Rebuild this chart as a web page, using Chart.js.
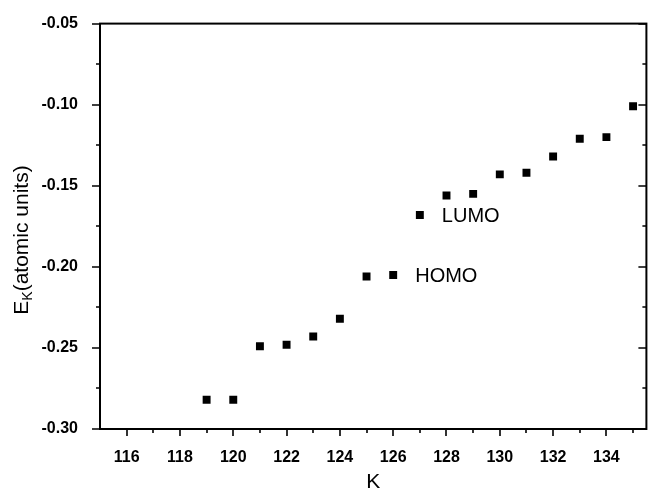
<!DOCTYPE html>
<html>
<head>
<meta charset="utf-8">
<script src="https://cdn.jsdelivr.net/npm/chart.js@4/dist/chart.umd.min.js"></script>
<style>
  body { margin: 0; background: #fff; }
  canvas { display: block; }
</style>
</head>
<body>
<canvas id="chart" width="652" height="489"></canvas>
<script>
// orbital index K and its energy (atomic units)
const kValues = [119, 120, 121, 122, 123, 124, 125, 126, 127, 128, 129, 130, 131, 132, 133, 134, 135];
const energies = [-0.282, -0.282, -0.249, -0.248, -0.243, -0.232, -0.206, -0.205, -0.168,
  -0.156, -0.155, -0.143, -0.142, -0.132, -0.121, -0.120, -0.101];

const xTickValues = [116, 118, 120, 122, 124, 126, 128, 130, 132, 134];
const xMinorValues = [115, 117, 119, 121, 123, 125, 127, 129, 131, 133, 135];
const yTickValues = [-0.30, -0.25, -0.20, -0.15, -0.10, -0.05];
const yMinorValues = [-0.275, -0.225, -0.175, -0.125, -0.075];

const labelNames = ['HOMO', 'LUMO'];
const labelK = [126, 127];

const FONT = '"Liberation Sans", Arial, sans-serif';

// frame, tick marks and the free text (titles, HOMO/LUMO)
const decorations = {
  id: 'decorations',
  afterDraw(chart) {
    const { ctx, chartArea: a } = chart;
    const xs = chart.scales.x, ys = chart.scales.y;
    ctx.save();
    ctx.strokeStyle = '#000';
    ctx.lineWidth = 2;
    ctx.strokeRect(a.left, a.top, a.right - a.left, a.bottom - a.top);

    ctx.lineWidth = 1.6;
    ctx.beginPath();
    xTickValues.forEach(v => {
      const px = Math.round(xs.getPixelForValue(v));
      ctx.moveTo(px, a.bottom); ctx.lineTo(px, a.bottom + 7);
    });
    xMinorValues.forEach(v => {
      const px = Math.round(xs.getPixelForValue(v));
      if (px <= a.left + 1 || px >= a.right - 1) return;
      ctx.moveTo(px, a.bottom); ctx.lineTo(px, a.bottom + 4);
    });
    yTickValues.forEach(v => {
      const py = Math.round(ys.getPixelForValue(v));
      ctx.moveTo(a.left, py); ctx.lineTo(a.left - 8, py);
      ctx.moveTo(a.right, py); ctx.lineTo(a.right - 8, py);
    });
    yMinorValues.forEach(v => {
      const py = Math.round(ys.getPixelForValue(v));
      ctx.moveTo(a.left, py); ctx.lineTo(a.left - 4, py);
      ctx.moveTo(a.right, py); ctx.lineTo(a.right - 4, py);
    });
    ctx.stroke();

    ctx.fillStyle = '#000';
    // HOMO / LUMO next to their points
    ctx.font = '20px ' + FONT;
    ctx.textBaseline = 'middle';
    ctx.textAlign = 'left';
    labelNames.forEach((name, i) => {
      const px = xs.getPixelForValue(labelK[i]);
      const py = ys.getPixelForValue(energies[kValues.indexOf(labelK[i])]);
      ctx.fillText(name, px + 22, py + 2);
    });

    // x title
    ctx.font = '21px ' + FONT;
    ctx.textAlign = 'center';
    ctx.fillText('K', (a.left + a.right) / 2, 482);

    // y title with subscript K
    const big = '21px ' + FONT, small = '14px ' + FONT;
    ctx.font = big; const wE = ctx.measureText('E').width;
    const wRest = ctx.measureText('(atomic units)').width;
    ctx.font = small; const wK = ctx.measureText('K').width;
    const total = wE + wK + wRest;
    ctx.translate(22, 240);
    ctx.rotate(-Math.PI / 2);
    ctx.textAlign = 'left';
    let x0 = -total / 2;
    ctx.font = big; ctx.fillText('E', x0, 0);
    ctx.font = small; ctx.fillText('K', x0 + wE, 6);
    ctx.font = big; ctx.fillText('(atomic units)', x0 + wE + wK, 0);
    ctx.restore();
  }
};

new Chart(document.getElementById('chart'), {
  type: 'scatter',
  data: {
    datasets: [{
      data: kValues.map((k, i) => ({ x: k, y: energies[i] })),
      pointStyle: 'rect',
      pointRadius: 5.6,
      pointHoverRadius: 5.6,
      backgroundColor: '#000',
      borderColor: '#000',
      borderWidth: 0
    }]
  },
  options: {
    responsive: false,
    animation: false,
    events: [],
    layout: { padding: { top: 17, right: 2, left: 0, bottom: 0 } },
    plugins: { legend: { display: false }, tooltip: { enabled: false } },
    scales: {
      x: {
        type: 'linear',
        min: 115,
        max: 135.5,
        grid: { display: false },
        border: { display: false },
        afterBuildTicks: s => { s.ticks = xTickValues.map(v => ({ value: v })); },
        afterFit: s => { s.height = 60; },
        ticks: {
          color: '#000',
          font: { family: FONT, size: 16, weight: 'bold' },
          padding: 11,
          maxRotation: 0,
          callback: v => String(v)
        }
      },
      y: {
        min: -0.30,
        max: -0.05,
        grid: { display: false },
        border: { display: false },
        afterBuildTicks: s => { s.ticks = yTickValues.map(v => ({ value: v })); },
        afterFit: s => { s.width = 100; },
        ticks: {
          color: '#000',
          font: { family: FONT, size: 16, weight: 'bold' },
          padding: 14,
          callback: v => v.toFixed(2)
        }
      }
    }
  },
  plugins: [decorations]
});
</script>
</body>
</html>
